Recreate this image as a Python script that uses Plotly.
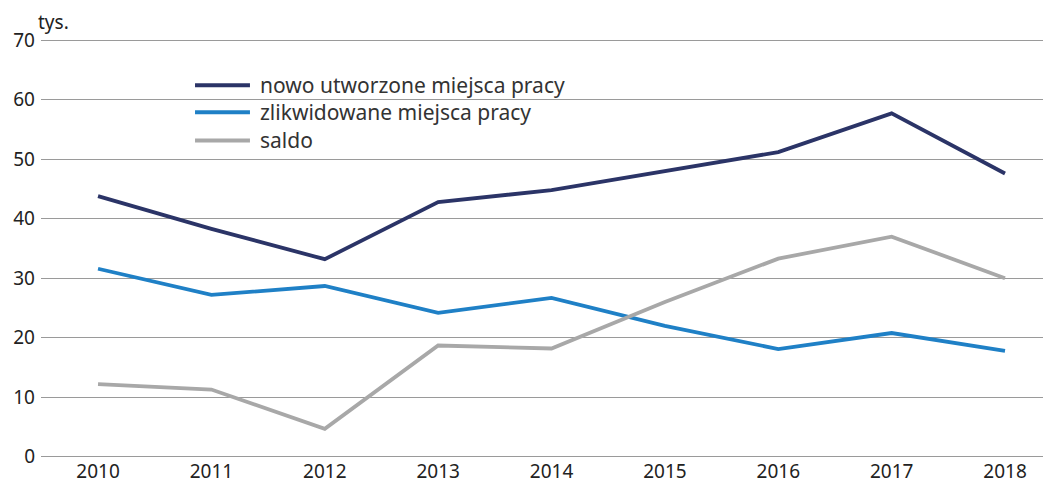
import plotly.graph_objects as go

years = ["2010", "2011", "2012", "2013", "2014", "2015", "2016", "2017", "2018"]
nowo = [43.8, 38.3, 33.2, 42.8, 44.8, 48.0, 51.2, 57.7, 47.6]
zlikwidowane = [31.6, 27.2, 28.7, 24.2, 26.7, 22.0, 18.1, 20.8, 17.8]
saldo = [12.2, 11.3, 4.7, 18.7, 18.2, 26.0, 33.3, 37.0, 30.0]
y_ticks = [0, 10, 20, 30, 40, 50, 60, 70]

names = ["nowo utworzone miejsca pracy", "zlikwidowane miejsca pracy", "saldo"]
colors = ["#2b3467", "#1f80c6", "#a8a8a8"]
series = [nowo, zlikwidowane, saldo]

xs = list(range(len(years)))
fig = go.Figure()
for name, col, vals in zip(names, colors, series):
    fig.add_trace(go.Scatter(x=xs, y=vals, mode="lines", name=name,
                             line=dict(color=col, width=3.8), showlegend=False))

# manual legend (box, swatches, labels) in plot-area paper coordinates
shapes = [dict(type="rect", xref="paper", yref="paper", x0=0.129, x1=0.5397,
               y0=0.7194, y1=0.9329, fillcolor="white", line=dict(width=0),
               layer="between")]
leg_y = [0.8897, 0.8249, 0.7578]
for col, ly in zip(colors, leg_y):
    shapes.append(dict(type="line", xref="paper", yref="paper", x0=0.1528, x1=0.2073,
                       y0=ly, y1=ly, line=dict(color=col, width=4), layer="above"))

annotations = [
    dict(text="<br>".join(names), xref="paper", yref="paper", x=0.2165, y=leg_y[1],
         xanchor="left", yanchor="middle", align="left", showarrow=False, borderpad=0,
         font=dict(size=21, color="#333333")),
    dict(text="tys.", xref="paper", yref="paper",
         x=-0.004, y=1.0, yshift=3, xanchor="left", yanchor="bottom", borderpad=0,
         showarrow=False, font=dict(size=19, color="#222222")),
]

fig.update_layout(
    width=1043, height=489,
    margin=dict(l=33, r=2, t=31, b=39),
    paper_bgcolor="white", plot_bgcolor="white",
    font=dict(family="Noto Sans", size=19, color="#222222"),
    showlegend=False,
    xaxis=dict(tickmode="array", tickvals=xs, ticktext=years,
               range=[-0.503, 8.388], showgrid=False, zeroline=False,
               showline=False, ticks="", tickfont=dict(size=19)),
    yaxis=dict(range=[-0.2, 70.2], tickvals=y_ticks, showgrid=True,
               gridcolor="#9a9a9a", gridwidth=1, zeroline=False,
               showline=False, ticks="", ticklabelstandoff=5,
               tickfont=dict(size=19)),
    shapes=shapes,
    annotations=annotations,
)

fig.write_html("out.html")
